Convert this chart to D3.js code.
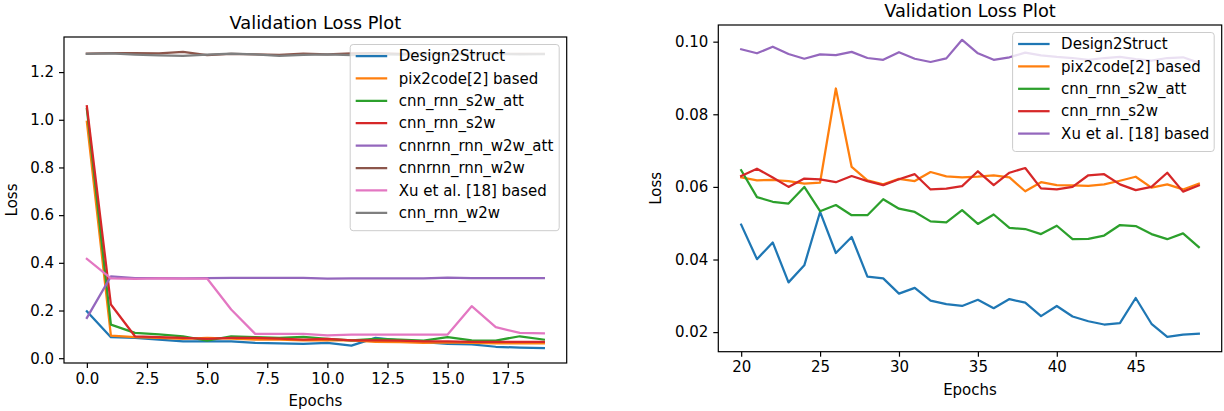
<!DOCTYPE html>
<html>
<head>
<meta charset="utf-8">
<script src="https://cdn.jsdelivr.net/npm/d3@7"></script>
<style>
	body { margin: 0; background: #fff; }
	svg text { font-family: "DejaVu Sans", sans-serif; fill: #000; }
</style>
</head>
<body>
<div id="chart"></div>
<script>

// left panel: epochs 0..19
var epochsA = [0,1,2,3,4,5,6,7,8,9,10,11,12,13,14,15,16,17,18,19];
var namesA = ["Design2Struct", "pix2code[2] based", "cnn_rnn_s2w_att", "cnn_rnn_s2w",
	"cnnrnn_rnn_w2w_att", "cnnrnn_rnn_w2w", "Xu et al. [18] based", "cnn_rnn_w2w"];
var design2structA = [0.197,0.088,0.085,0.078,0.071,0.071,0.071,0.064,0.062,0.060,0.064,0.053,0.085,0.075,0.067,0.060,0.058,0.048,0.044,0.042];
var pix2codeA      = [0.992,0.095,0.088,0.085,0.081,0.085,0.082,0.078,0.078,0.075,0.075,0.075,0.068,0.067,0.064,0.066,0.064,0.062,0.062,0.062];
var s2wAttA        = [1.045,0.141,0.106,0.100,0.092,0.074,0.092,0.088,0.085,0.089,0.081,0.075,0.081,0.078,0.074,0.088,0.075,0.074,0.092,0.078];
var s2wA           = [1.057,0.225,0.092,0.088,0.085,0.081,0.085,0.085,0.082,0.078,0.081,0.075,0.075,0.074,0.071,0.071,0.068,0.068,0.068,0.068];
var w2wAttA        = [0.169,0.343,0.336,0.336,0.335,0.336,0.337,0.337,0.337,0.337,0.334,0.335,0.335,0.335,0.335,0.338,0.336,0.336,0.336,0.336];
var cnnrnnW2wA     = [1.277,1.279,1.280,1.278,1.285,1.271,1.276,1.274,1.272,1.277,1.274,1.278,1.280,1.276,1.277,1.275,1.276,1.277,1.276,1.276];
var xuA            = [0.417,0.335,0.333,0.335,0.334,0.334,0.204,0.102,0.102,0.102,0.096,0.099,0.099,0.099,0.099,0.099,0.218,0.130,0.106,0.104];
var w2wA           = [1.276,1.278,1.273,1.270,1.268,1.273,1.277,1.274,1.268,1.272,1.274,1.271,1.275,1.273,1.276,1.274,1.275,1.276,1.274,1.275];
var xTicksA = [0, 2.5, 5, 7.5, 10, 12.5, 15, 17.5];
var yTicksA = [0, 0.2, 0.4, 0.6, 0.8, 1.0, 1.2];

// right panel: epochs 20..49
var epochsB = [20,21,22,23,24,25,26,27,28,29,30,31,32,33,34,35,36,37,38,39,40,41,42,43,44,45,46,47,48,49];
var namesB = ["Design2Struct", "pix2code[2] based", "cnn_rnn_s2w_att", "cnn_rnn_s2w", "Xu et al. [18] based"];
var design2structB = [0.0496,0.0401,0.0447,0.0337,0.0384,0.0531,0.0418,0.0462,0.0353,0.0348,0.0306,0.0322,0.0287,0.0277,0.0272,
	0.0289,0.0266,0.0291,0.0281,0.0244,0.0272,0.0243,0.0230,0.0221,0.0225,0.0294,0.0223,0.0187,0.0193,0.0196];
var pix2codeB = [0.0626,0.0618,0.0619,0.0616,0.0609,0.0612,0.0871,0.0655,0.0618,0.0607,0.0622,0.0616,0.0641,0.0629,0.0626,
	0.0628,0.0632,0.0626,0.0588,0.0613,0.0605,0.0604,0.0603,0.0607,0.0617,0.0628,0.0598,0.0607,0.0593,0.0609];
var s2wAttB = [0.0646,0.0572,0.0559,0.0554,0.0600,0.0533,0.0550,0.0522,0.0522,0.0566,0.0540,0.0531,0.0505,0.0502,0.0536,
	0.0498,0.0524,0.0487,0.0484,0.0470,0.0493,0.0456,0.0457,0.0466,0.0495,0.0492,0.0470,0.0456,0.0472,0.0434];
var s2wB = [0.0630,0.0650,0.0626,0.0600,0.0623,0.0621,0.0613,0.0630,0.0616,0.0605,0.0621,0.0635,0.0593,0.0595,0.0602,
	0.0643,0.0605,0.0639,0.0652,0.0596,0.0593,0.0600,0.0632,0.0635,0.0607,0.0591,0.0600,0.0639,0.0587,0.0604];
var xuB = [0.0979,0.0968,0.0986,0.0966,0.0953,0.0965,0.0963,0.0972,0.0955,0.0950,0.0971,0.0953,0.0944,0.0954,0.1005,
	0.0968,0.0950,0.0957,0.0970,0.0962,0.0958,0.0955,0.0950,0.0955,0.0958,0.0952,0.0948,0.0955,0.0957,0.0942];
var xTicksB = [20, 25, 30, 35, 40, 45];
var yTicksB = [0.02, 0.04, 0.06, 0.08, 0.10];

var tab10 = ["#1f77b4", "#ff7f0e", "#2ca02c", "#d62728", "#9467bd", "#8c564b", "#e377c2", "#7f7f7f"];

var svg = d3.select("#chart").append("svg")
	.attr("width", 1224)
	.attr("height", 411);

function panel(p)	{

	var g = svg.append("g");

	// matplotlib-like 5% margins
	var [xmin, xmax] = d3.extent(p.epochs);
	var [ymin, ymax] = d3.extent(p.series.flat());
	var dx = (xmax - xmin) * 0.05, dy = (ymax - ymin) * 0.05;

	var x = d3.scaleLinear([xmin - dx, xmax + dx], [p.left, p.right]);
	var y = d3.scaleLinear([ymin - dy, ymax + dy], [p.bottom, p.top]);

	var xaxis = d3.axisBottom(x).tickValues(p.xticks).tickFormat(p.xfmt).tickSize(5).tickPadding(5).tickSizeOuter(0);
	var yaxis = d3.axisLeft(y).tickValues(p.yticks).tickFormat(p.yfmt).tickSize(5).tickPadding(5).tickSizeOuter(0);

	g.append("g")
		.attr("transform", `translate(0,${p.bottom})`)
		.call(xaxis)
		.call(a => a.select(".domain").remove());

	g.append("g")
		.attr("transform", `translate(${p.left},0)`)
		.call(yaxis)
		.call(a => a.select(".domain").remove());

	g.selectAll(".tick line").attr("stroke", "#000").attr("stroke-width", 1.2);
	g.selectAll(".tick text").attr("font-size", 15).attr("fill", "#000");

	var line = d3.line((d, i) => x(p.epochs[i]), d => y(d));

	g.selectAll(".line")
	.data(p.series)
	.join("path")
		.attr("class", "line")
		.attr("fill", "none")
		.attr("stroke", (d, i) => p.colors[i])
		.attr("stroke-width", 2.25)
		.attr("stroke-linejoin", "round")
		.attr("stroke-linecap", "square")
		.attr("d", d => line(d));

	// frame
	g.append("rect")
		.attr("x", p.left).attr("y", p.top)
		.attr("width", p.right - p.left).attr("height", p.bottom - p.top)
		.attr("fill", "none").attr("stroke", "#000").attr("stroke-width", 1.2);

	g.append("text")
		.attr("x", (p.left + p.right) / 2).attr("y", p.top - 8)
		.attr("text-anchor", "middle").attr("font-size", 17.8)
		.text("Validation Loss Plot");

	g.append("text")
		.attr("x", (p.left + p.right) / 2).attr("y", p.bottom + 43)
		.attr("text-anchor", "middle").attr("font-size", 15)
		.text("Epochs");

	g.append("text")
		.attr("transform", `translate(${p.left - p.ylabOff},${(p.top + p.bottom) / 2}) rotate(-90)`)
		.attr("text-anchor", "middle").attr("font-size", 15)
		.text("Loss");

	// legend, upper right
	var rowh = 22.4;
	var lw = p.legendW, lh = p.names.length * rowh + 7;
	var lx = p.right - 7.5 - lw, ly = p.top + 7.5;
	var lg = g.append("g").attr("transform", `translate(${lx},${ly})`);

	lg.append("rect")
		.attr("width", lw).attr("height", lh).attr("rx", 3)
		.attr("fill", "#fff").attr("fill-opacity", 0.8)
		.attr("stroke", "#cccccc").attr("stroke-width", 1);

	var items = lg.selectAll(".item")
		.data(p.names)
		.join("g")
			.attr("class", "item")
			.attr("transform", (d, i) => `translate(0,${11.5 + i * rowh})`);

	items.append("line")
		.attr("x1", 5.5).attr("x2", 37)
		.attr("stroke", (d, i) => p.colors[i])
		.attr("stroke-width", 2.25);

	items.append("text")
		.attr("x", 48.5).attr("dy", "0.35em")
		.attr("font-size", 15)
		.text(d => d);

}

panel({
	epochs: epochsA,
	series: [design2structA, pix2codeA, s2wAttA, s2wA, w2wAttA, cnnrnnW2wA, xuA, w2wA],
	names: namesA,
	colors: tab10,
	xticks: xTicksA, yticks: yTicksA,
	xfmt: d3.format(".1f"), yfmt: d3.format(".1f"),
	left: 64, right: 566.7, top: 37, bottom: 363,
	ylabOff: 47, legendW: 209
});

panel({
	epochs: epochsB,
	series: [design2structB, pix2codeB, s2wAttB, s2wB, xuB],
	names: namesB,
	colors: tab10.slice(0, 5),
	xticks: xTicksB, yticks: yTicksB,
	xfmt: d3.format("d"), yfmt: d3.format(".2f"),
	left: 718.3, right: 1221.7, top: 25, bottom: 351.7,
	ylabOff: 57, legendW: 201.6
});

</script>
</body>
</html>
